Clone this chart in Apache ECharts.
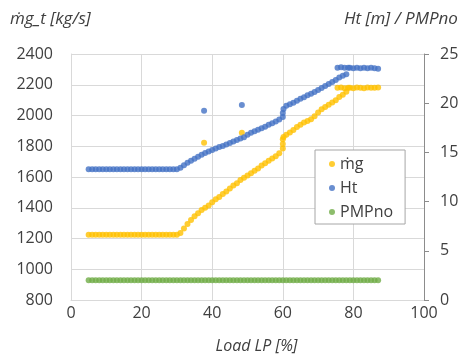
<!DOCTYPE html>
<html>
<head>
<meta charset="utf-8">
<script src="https://cdn.jsdelivr.net/npm/echarts@6/dist/echarts.min.js"></script>
<style>html,body{margin:0;padding:0;background:#fff;}#c{width:461px;height:356px;}</style>
</head>
<body>
<div id="c"></div>
<script>
// Load LP [%]
var loads = [5,6,7,8,9,10,11,12,13,14,15,16,17,18,19,20,21,22,23,24,25,26,27,28,29,30,
  31,32,33,34,35,36,37,38,39,40,41,42,43,44,45,46,47,48,49,50,51,52,53,54,55,56,57,58,59,60,
  61,62,63,64,65,66,67,68,69,70,71,72,73,74,75,76,77,78,79,80,81,82,83,84,85,86,87];
// mg [kg/s]
var mgValues = [1225,1225,1225,1225,1225,1225,1225,1225,1225,1225,1225,1225,1225,1225,1225,1225,1225,1225,1225,1225,1225,1225,1225,1225,1225,1225,
  1235,1265,1295,1320,1345,1365,1385,1400,1415,1435,1455,1470,1490,1505,1525,1545,1560,1580,1595,1610,1625,1640,1655,1675,1690,1705,1720,1735,1755,1785,
  1875,1890,1905,1925,1940,1955,1965,1975,1995,2020,2040,2055,2070,2085,2100,2120,2135,2155,2180,2178,2182,2180,2178,2182,2180,2180,2182];
var mgExtraLoads = [37.7,48.4,60,60,60.2,75.5,76.5,77.5,78.5];
var mgExtraValues = [1823,1888,1815,1845,1860,2180,2182,2178,2180];
// Ht [m]
var htValues = [13.3,13.3,13.3,13.3,13.3,13.3,13.3,13.3,13.3,13.3,13.3,13.3,13.3,13.3,13.3,13.3,13.3,13.3,13.3,13.3,13.3,13.3,13.3,13.3,13.3,13.3,
  13.45,13.7,13.95,14.15,14.35,14.55,14.75,14.95,15.1,15.25,15.4,15.55,15.65,15.8,15.95,16.1,16.25,16.4,16.55,16.8,17.0,17.15,17.3,17.45,17.6,17.8,17.95,18.15,18.35,18.6,
  19.75,19.9,20.05,20.25,20.45,20.6,20.8,20.95,21.15,21.35,21.55,21.75,21.95,22.15,22.35,22.6,22.8,22.95,23.6,23.55,23.6,23.55,23.6,23.55,23.6,23.55,23.5];
var htExtraLoads = [37.7,48.4,60,60.2,75.5,76.5,77.5,78.5];
var htExtraValues = [19.23,19.81,19.0,19.4,23.6,23.65,23.6,23.6];
// PMPno
var pmpValues = [2,2,2,2,2,2,2,2,2,2,2,2,2,2,2,2,2,2,2,2,2,2,2,2,2,2,
  2,2,2,2,2,2,2,2,2,2,2,2,2,2,2,2,2,2,2,2,2,2,2,2,2,2,2,2,2,2,
  2,2,2,2,2,2,2,2,2,2,2,2,2,2,2,2,2,2,2,2,2,2,2,2,2,2,2];

var seriesNames = ['ṁg', 'Ht', 'PMPno'];
var xTitle = 'Load LP [%]';
var yLeftTitle = 'ṁg_t [kg/s]';
var yRightTitle = 'Ht [m] / PMPno';

function pairs(xs, ys) { return xs.map(function (x, i) { return [x, ys[i]]; }); }
function plain(v) { return String(v); }

var font = 'Open Sans';
var txt = '#404040';
var chart = echarts.init(document.getElementById('c'), null, { renderer: 'canvas' });
chart.setOption({
  animation: false,
  backgroundColor: '#ffffff',
  title: [
    { text: yLeftTitle, left: 10, top: 11, padding: 0,
      textStyle: { fontFamily: font, fontSize: 17, fontStyle: 'italic', fontWeight: 'normal', color: txt } },
    { text: yRightTitle, left: 344, top: 11, padding: 0,
      textStyle: { fontFamily: font, fontSize: 17, fontStyle: 'italic', fontWeight: 'normal', color: txt } }
  ],
  grid: { left: 71, right: 37, top: 54, bottom: 56, containLabel: false, outerBoundsMode: 'none' },
  legend: {
    orient: 'vertical', left: 315, top: 150,
    padding: [5, 12, 3, 14], itemGap: 6, itemWidth: 6, itemHeight: 6,
    borderColor: '#a6a6a6', borderWidth: 1, backgroundColor: '#fff',
    icon: 'circle',
    textStyle: { fontFamily: font, fontSize: 16, color: txt, lineHeight: 18 },
    data: seriesNames
  },
  xAxis: {
    type: 'value', min: 0, max: 100, interval: 20,
    name: xTitle, nameLocation: 'middle', nameGap: 38,
    nameTextStyle: { fontFamily: font, fontSize: 16, fontStyle: 'italic', color: txt, padding: [0, 0, 0, 18] },
    axisLine: { show: true, lineStyle: { color: '#d9d9d9' } },
    axisTick: { show: false },
    axisLabel: { fontFamily: font, fontSize: 16, color: txt, margin: 5, formatter: plain },
    splitLine: { show: true, lineStyle: { color: '#d9d9d9' } }
  },
  yAxis: [
    { type: 'value', min: 800, max: 2400, interval: 200, position: 'left',
      axisLine: { show: true, lineStyle: { color: '#d9d9d9' } },
      axisTick: { show: false },
      axisLabel: { fontFamily: font, fontSize: 16, color: txt, margin: 18, formatter: plain },
      splitLine: { show: true, lineStyle: { color: '#d9d9d9' } } },
    { type: 'value', min: 0, max: 25, interval: 5, position: 'right',
      axisLine: { show: true, lineStyle: { color: '#8c8c8c' } },
      axisTick: { show: true, length: 5, inside: false, lineStyle: { color: '#8c8c8c' } },
      axisLabel: { fontFamily: font, fontSize: 16, color: txt, margin: 16, formatter: plain },
      splitLine: { show: false } }
  ],
  series: [
    { name: seriesNames[0], type: 'scatter', yAxisIndex: 0, symbolSize: 6,
      itemStyle: { color: '#FFC000' },
      data: pairs(loads, mgValues).concat(pairs(mgExtraLoads, mgExtraValues)) },
    { name: seriesNames[1], type: 'scatter', yAxisIndex: 1, symbolSize: 6,
      itemStyle: { color: '#4472C4' },
      data: pairs(loads, htValues).concat(pairs(htExtraLoads, htExtraValues)) },
    { name: seriesNames[2], type: 'scatter', yAxisIndex: 1, symbolSize: 6,
      itemStyle: { color: '#70AD47' },
      data: pairs(loads, pmpValues) }
  ]
});
</script>
</body>
</html>
